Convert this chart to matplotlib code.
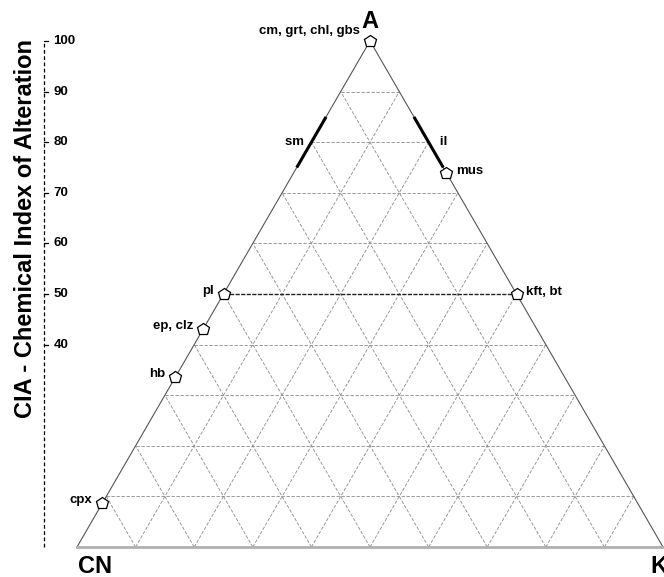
import numpy as np
import matplotlib
matplotlib.use("Agg")
from matplotlib import pyplot as plt

plt.rcParams['font.family'] = ['Liberation Sans', 'DejaVu Sans']
plt.rcParams['font.weight'] = 'bold'

# mineral positions along the triangle edges, given as A (CIA) percent
MINERALS = ["cm, grt, chl, gbs", "mus", "kft, bt", "pl", "ep, clz", "hb", "cpx"]
MINERAL_A = [100, 74, 50, 50, 43, 33.5, 8.7]
MINERAL_EDGE = ["K", "K", "K", "CN", "CN", "CN", "CN"]   # edge: A-K or A-CN

# clay mineral ranges on the edges
SM_RANGE = [75, 85]
IL_RANGE = [75, 85]

CIA_TICKS = [40, 50, 60, 70, 80, 90, 100]
GRID_STEPS = np.arange(10, 100, 10)


def tern(a, k):
    """a, k in percent -> plot coords (x along CN-K, y = A fraction)"""
    a = np.asarray(a) / 100.0
    k = np.asarray(k) / 100.0
    return k + a / 2.0, a


def edge_point(a, edge):
    # point on A-CN edge (k = 0) or A-K edge (cn = 0)
    if edge == "K":
        return tern(a, 100 - a)
    return tern(a, 0)


fig = plt.figure(figsize=(6.64, 5.77), dpi=100)
ax = fig.add_axes([0, 0, 1, 1])
ax.set_xlim(-77 / 586, 587 / 586)
ax.set_ylim(-30 / 506, 547 / 506)
ax.axis('off')

grid_kw = dict(color='#8a8a8a', lw=0.6, ls=(0, (4, 2)), zorder=1)

# grid lines parallel to each edge
for v in GRID_STEPS:
    # constant A
    x, y = tern([v, v], [0, 100 - v])
    if v == 50:
        ax.plot(x, y, color='#222222', lw=1.0, ls=(0, (3, 1)), zorder=2)
    else:
        ax.plot(x, y, **grid_kw)
    # constant K
    x, y = tern([0, 100 - v], [v, v])
    ax.plot(x, y, **grid_kw)
    # constant CN
    x, y = tern([0, 100 - v], [100 - v, 0])
    ax.plot(x, y, **grid_kw)

# triangle outline
x, y = tern([0, 100, 0], [0, 0, 100])
ax.plot(x[:2], y[:2], color='#555555', lw=0.8, zorder=3)
ax.plot(x[1:], y[1:], color='#555555', lw=0.8, zorder=3)
ax.plot([x[0], x[2]], [y[0], y[2]], color='#b0b0b0', lw=2.0, zorder=3)

# smectite and illite ranges
x, y = edge_point(np.array(SM_RANGE), "CN")
ax.plot(x, y, color='black', lw=2.2, solid_capstyle='butt', zorder=4)
x, y = edge_point(np.array(IL_RANGE), "K")
ax.plot(x, y, color='black', lw=2.2, solid_capstyle='butt', zorder=4)
ax.text(*edge_point(80, "CN"), "sm  ", ha='right', va='center', fontsize=9.5)
ax.text(*edge_point(80, "K"), "   il", ha='left', va='center', fontsize=9.5)

# mineral markers and labels
for name, a, edge in zip(MINERALS, MINERAL_A, MINERAL_EDGE):
    x, y = edge_point(a, edge)
    ax.plot(x, y, marker='p', ms=9, mfc='white', mec='black', mew=0.9,
            zorder=5)
    if name.startswith("cm"):
        ax.text(x - 0.017, y + 0.008, name, ha='right', va='bottom',
                fontsize=9.5)
    elif edge == "K":
        ax.text(x + 0.017, y + 0.004, name, ha='left', va='center',
                fontsize=9.5)
    else:
        ax.text(x - 0.017, y + 0.006, name, ha='right', va='center',
                fontsize=9.5)

# vertex labels
ax.text(0.5, 1.015, "A", ha='center', va='bottom', fontsize=17)
ax.text(0.031, -0.016, "CN", ha='center', va='top', fontsize=17)
ax.text(0.978, -0.016, "K", ha='left', va='top', fontsize=17)

# CIA scale
cx = -33 / 586
ax.plot([cx, cx], [0, 1], color='black', lw=0.9, ls=(0, (3, 2)))
for t in CIA_TICKS:
    ax.plot([cx, cx + 0.007], [t / 100, t / 100], color='black', lw=0.9)
    ax.text(cx + 0.016, t / 100, str(t), ha='left', va='center', fontsize=9.5)
ax.text(-52 / 586, 0.63, "CIA - Chemical Index of Alteration", rotation=90,
        ha='center', va='center', fontsize=17)

fig.savefig("out.png", dpi=100)
